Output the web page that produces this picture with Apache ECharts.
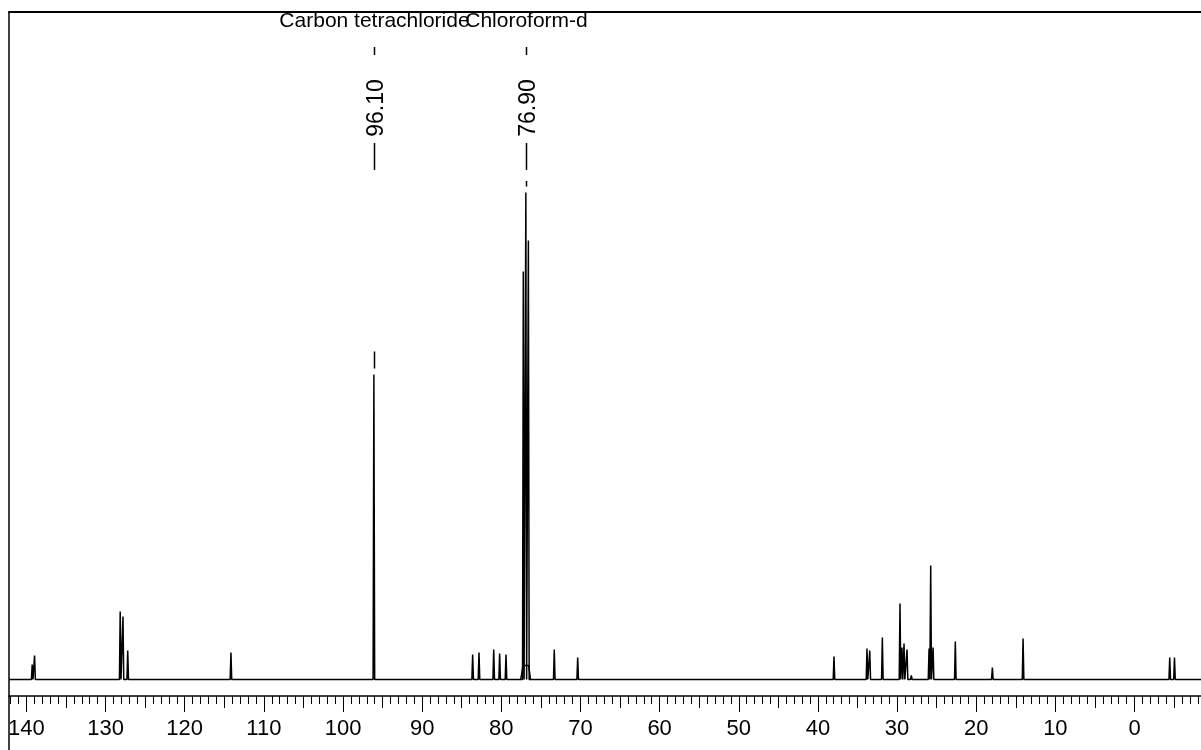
<!DOCTYPE html>
<html>
<head>
<meta charset="utf-8">
<title>13C NMR</title>
<script src="https://cdn.jsdelivr.net/npm/echarts@6/dist/echarts.min.js"></script>
<style>
  html, body { margin: 0; padding: 0; background: #fff; }
  #grafica { width: 1201px; height: 750px; }
</style>
</head>
<body>
<div id="grafica"></div>
<script>
var desplazamientos = [139.27, 138.97, 128.15, 127.80, 127.20, 114.16, 96.10,
  83.62, 82.82, 80.96, 80.21, 79.41, 77.22, 76.90, 76.58, 73.31, 70.35,
  37.97, 33.80, 33.45, 31.86, 29.63, 29.38, 29.12, 28.74, 28.20,
  25.96, 25.75, 25.45, 22.64, 17.96, 14.08, -4.45, -5.05];
var intensidades = [15, 24, 68, 63, 29, 27, 305,
  25, 27, 30, 26, 25, 408, 487, 439, 30, 22,
  23, 31, 29, 42, 76, 32, 36, 30, 4,
  31, 114, 32, 38, 12, 41, 22, 22];

// Base ancha del triplete del cloroformo
var baseCloroformo = [[77.55, 0], [77.25, 14], [76.55, 14], [76.30, 0]];

// Etiquetas de los disolventes
var etiquetasPpm = [96.10, 76.90];
var etiquetasNombre = ['Carbon tetrachloride', 'Chloroform-d'];
var etiquetasTexto = ['96.10', '76.90'];

// Marcas del eje
var ticksMayores = [140, 130, 120, 110, 100, 90, 80, 70, 60, 50, 40, 30, 20, 10, 0];
var ticksMedios = [140, 135, 130, 125, 120, 115, 110, 105, 100, 95, 90, 85, 80, 75,
  70, 65, 60, 55, 50, 45, 40, 35, 30, 25, 20, 15, 10, 5, 0, -5];

var ppmMin = -8.4;
var ppmMax = 142.2;

// ticks de 1 ppm
var ticksMenores = [];
for (var t = 142; t >= -8; t--) {
  ticksMenores.push(t);
}

// Arma la linea del espectro a partir de los picos
function armarEspectro() {
  var w = 0.1;
  var puntos = [[ppmMax, 0]];
  var orden = desplazamientos.map(function (d, i) { return i; });
  orden.sort(function (a, b) { return desplazamientos[b] - desplazamientos[a]; });
  orden.forEach(function (i) {
    var s = desplazamientos[i];
    puntos.push([s + w, 0]);
    puntos.push([s, intensidades[i]]);
    puntos.push([s - w, 0]);
  });
  puntos.push([ppmMin, 0]);
  return puntos;
}

var datosEtiquetas = etiquetasPpm.map(function (p) {
  var i = desplazamientos.indexOf(p);
  return [p, intensidades[i]];
});

var fuente = '"Liberation Sans", Arial, sans-serif';

function ejeX(valores, largo, conEtiquetas, conLinea, lado) {
  return {
    type: 'value',
    min: ppmMin,
    max: ppmMax,
    inverse: true,
    position: lado || 'bottom',
    axisLine: { show: conLinea, onZero: false, lineStyle: { color: '#000', width: lado === 'top' ? 2 : 1.5 } },
    axisTick: { show: valores !== null, customValues: valores || [], length: largo, lineStyle: { color: '#000', width: 1 } },
    axisLabel: {
      show: conEtiquetas,
      customValues: ticksMayores,
      margin: 22,
      color: '#000',
      fontSize: 22,
      fontFamily: fuente
    },
    splitLine: { show: false }
  };
}

function renderEtiqueta(params, api) {
  var ppm = api.value(0);
  var alto = api.value(1);
  var x = Math.round(api.coord([ppm, 0])[0]) + 0.5;
  var yPico = api.coord([ppm, alto])[1];
  var trazo = { stroke: '#000', lineWidth: 1.5 };
  return {
    type: 'group',
    children: [
      {
        type: 'text', x: x, y: 21,
        style: { text: etiquetasNombre[params.dataIndex], align: 'center', verticalAlign: 'middle',
          fontSize: 21, fontFamily: fuente, fill: '#000' }
      },
      { type: 'line', shape: { x1: x, y1: 47, x2: x, y2: 55 }, style: trazo },
      {
        type: 'text', x: x + 2, y: 108, rotation: Math.PI / 2,
        style: { text: etiquetasTexto[params.dataIndex], align: 'center', verticalAlign: 'middle',
          fontSize: 23, fontFamily: fuente, fill: '#000' }
      },
      { type: 'line', shape: { x1: x, y1: 143, x2: x, y2: 170 }, style: trazo },
      { type: 'line', shape: { x1: x, y1: Math.max(yPico - 23, 181), x2: x, y2: yPico - 6 }, style: trazo }
    ]
  };
}

var chart = echarts.init(document.getElementById('grafica'));

var option = {
  animation: false,
  backgroundColor: '#fff',
  grid: {
    show: false,
    left: 9, right: 0, top: 12, bottom: 54
  },
  xAxis: [
    ejeX(ticksMenores, 8, false, true),
    ejeX(ticksMedios, 12, false, false),
    ejeX(ticksMayores, 16, true, false),
    // linea superior del marco
    ejeX(null, 0, false, true, 'top')
  ],
  yAxis: {
    type: 'value',
    min: -16.5,
    max: 667.5,
    position: 'left',
    axisLine: { show: true, onZero: false, lineStyle: { color: '#000', width: 1.5 } },
    axisTick: { show: false },
    axisLabel: { show: false },
    splitLine: { show: false }
  },
  graphic: [
    // prolongacion del marco izquierdo bajo el eje
    { type: 'line', shape: { x1: 9, y1: 696, x2: 9, y2: 750 }, style: { stroke: '#000', lineWidth: 1.5 } }
  ],
  series: [
    {
      name: 'espectro',
      type: 'line',
      xAxisIndex: 0,
      data: armarEspectro(),
      showSymbol: false,
      sampling: null,
      lineStyle: { color: '#000', width: 1.5 }
    },
    {
      name: 'base',
      type: 'line',
      xAxisIndex: 0,
      data: baseCloroformo,
      showSymbol: false,
      lineStyle: { color: '#000', width: 1.5 }
    },
    {
      name: 'etiquetas',
      type: 'custom',
      xAxisIndex: 0,
      clip: false,
      data: datosEtiquetas,
      renderItem: renderEtiqueta
    }
  ]
};

chart.setOption(option);
</script>
</body>
</html>
